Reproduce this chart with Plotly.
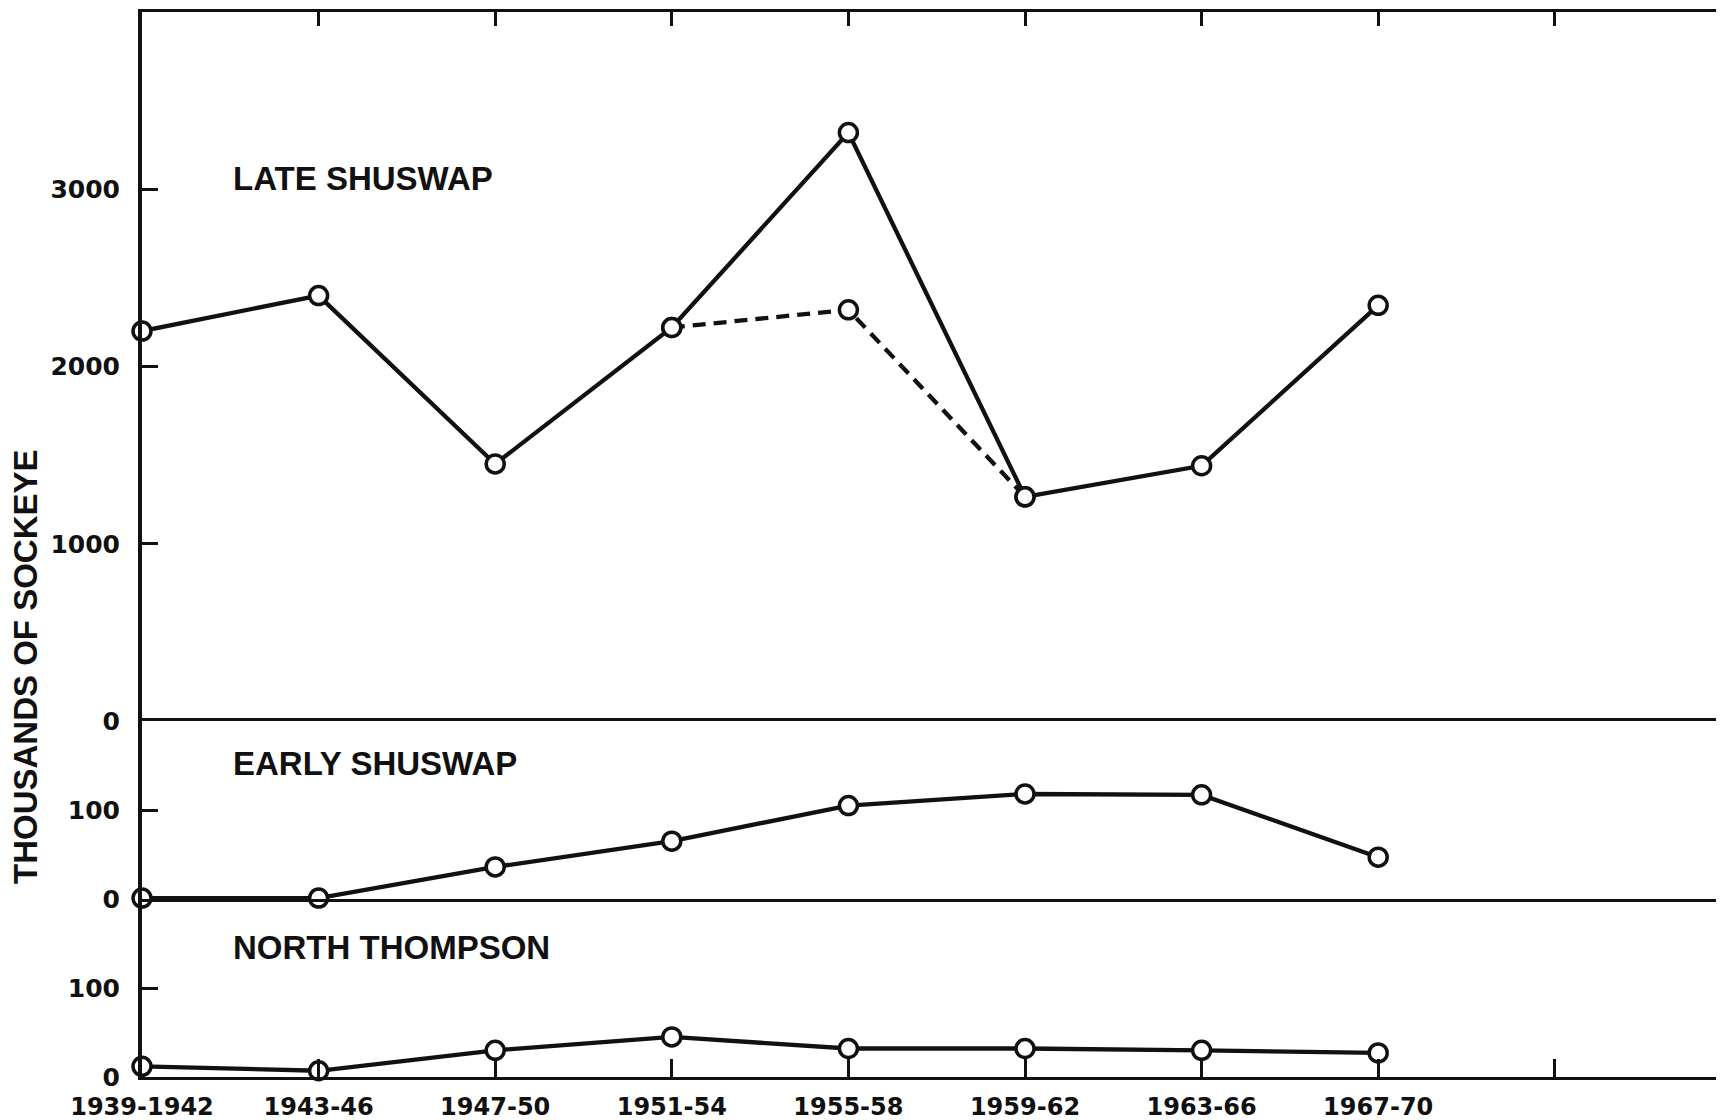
import plotly.graph_objects as go

periods = ["1939-1942", "1943-46", "1947-50", "1951-54", "1955-58", "1959-62", "1963-66", "1967-70"]
x_idx = list(range(len(periods)))

late_shuswap = [2200, 2400, 1450, 2220, 3320, 1265, 1440, 2345]
late_shuswap_alt = [None, None, None, 2220, 2320, 1265, None, None]
early_shuswap = [1, 1, 36, 65, 105, 118, 117, 47]
north_thompson = [12, 7, 30, 45, 32, 32, 30, 27]

top_ticks = [0, 1000, 2000, 3000]
sub_ticks = [0, 100]

INK = "#111111"
OFF = 8  # default page body margin
W, H = 1724 - OFF, 1120 - OFF
L, R, T, B = 142 - OFF, 0, 12 - OFF, 1120 - 1077
plot_h = H - T - B
plot_w = W - L
bottom_px = 1077 - OFF

def ypaper(page_y):
    return (bottom_px - (page_y - OFF)) / plot_h

def xpaper(page_x):
    return (page_x - OFF - L) / plot_w

y_split1 = ypaper(721)
y_split2 = ypaper(899)
x_max = plot_w / 176.6

fig = go.Figure()

def add_series(xs, ys, xa, ya, dash="solid"):
    fig.add_trace(go.Scatter(
        x=xs, y=ys, xaxis=xa, yaxis=ya, mode="lines+markers",
        line=dict(color=INK, width=4.3, dash=dash),
        marker=dict(symbol="circle", size=18, color="white", line=dict(color=INK, width=3.5)),
        cliponaxis=False, showlegend=False, connectgaps=False,
    ))

add_series(x_idx, late_shuswap_alt, "x", "y", dash="13px,8px")
add_series(x_idx, late_shuswap, "x", "y")
add_series(x_idx, early_shuswap, "x2", "y2")
add_series(x_idx, north_thompson, "x3", "y3")

tick_font = dict(family="DejaVu Sans", size=25, color=INK, weight="bold")
xtick_font = dict(family="DejaVu Sans", size=24, color=INK, weight="bold")

common_y = dict(showgrid=False, zeroline=False, showline=True, linecolor=INK, linewidth=4,
                ticks="inside", ticklen=16, tickwidth=3, tickcolor=INK, tickfont=tick_font,
                ticklabelstandoff=13, fixedrange=True, automargin=False)
right_y = dict(showgrid=False, zeroline=False, showline=False, side="right", automargin=False,
               ticks="inside", ticklen=12, tickwidth=3, tickcolor=INK, showticklabels=False)

xtv = list(range(len(periods) + 1))
xtt = periods + [""]

fig.update_layout(
    template="none",
    width=W, height=H,
    margin=dict(l=L, r=R, t=T, b=B, autoexpand=False),
    paper_bgcolor="white", plot_bgcolor="white",
    xaxis=dict(domain=[0, 1], anchor="y", side="top", range=[0, x_max], showgrid=False, zeroline=False,
               showline=True, linecolor=INK, linewidth=3, ticks="inside", ticklen=14, tickwidth=3,
               tickcolor=INK, tickvals=xtv, showticklabels=False, automargin=False),
    xaxis2=dict(domain=[0, 1], anchor="y2", matches="x", showgrid=False, zeroline=False, automargin=False,
                showline=True, mirror=True, linecolor=INK, linewidth=2.5, ticks="", showticklabels=False),
    xaxis3=dict(domain=[0, 1], anchor="y3", matches="x", showgrid=False, zeroline=False, automargin=False,
                showline=True, linecolor=INK, linewidth=3, ticks="inside", ticklen=18, tickwidth=3,
                tickcolor=INK, tickvals=xtv, ticktext=xtt, tickfont=xtick_font, ticklabelstandoff=6),
    yaxis=dict(domain=[y_split1, 1], anchor="x", range=[0, 4000], tickvals=top_ticks,
               ticktext=[str(v) for v in top_ticks], **common_y),
    yaxis2=dict(domain=[y_split2, y_split1], anchor="x2", range=[0, 200], tickvals=sub_ticks,
                ticktext=[str(v) for v in sub_ticks], **common_y),
    yaxis3=dict(domain=[0, y_split2], anchor="x3", range=[0, 200], tickvals=sub_ticks,
                ticktext=[str(v) for v in sub_ticks], **common_y),
    yaxis4=dict(overlaying="y", anchor="x", range=[0, 4000], tickvals=top_ticks[1:], **right_y),
    yaxis5=dict(overlaying="y2", anchor="x2", range=[0, 200], tickvals=sub_ticks[1:], **right_y),
    yaxis6=dict(overlaying="y3", anchor="x3", range=[0, 200], tickvals=sub_ticks[1:], **right_y),
)

label_font = dict(family="Liberation Sans", size=33, color=INK, weight="bold")
for text, py in [("LATE SHUSWAP", 178), ("EARLY SHUSWAP", 763), ("NORTH THOMPSON", 948)]:
    fig.add_annotation(text=text, xref="paper", yref="paper", x=xpaper(231), y=ypaper(py),
                       xanchor="left", yanchor="middle", showarrow=False, font=label_font)

fig.add_annotation(text="THOUSANDS OF SOCKEYE", xref="paper", yref="paper",
                   x=xpaper(25), y=ypaper(667), textangle=-90,
                   xanchor="center", yanchor="middle", showarrow=False,
                   font=dict(family="Liberation Sans", size=33, color=INK, weight="bold"))

fig.write_html("out.html")
